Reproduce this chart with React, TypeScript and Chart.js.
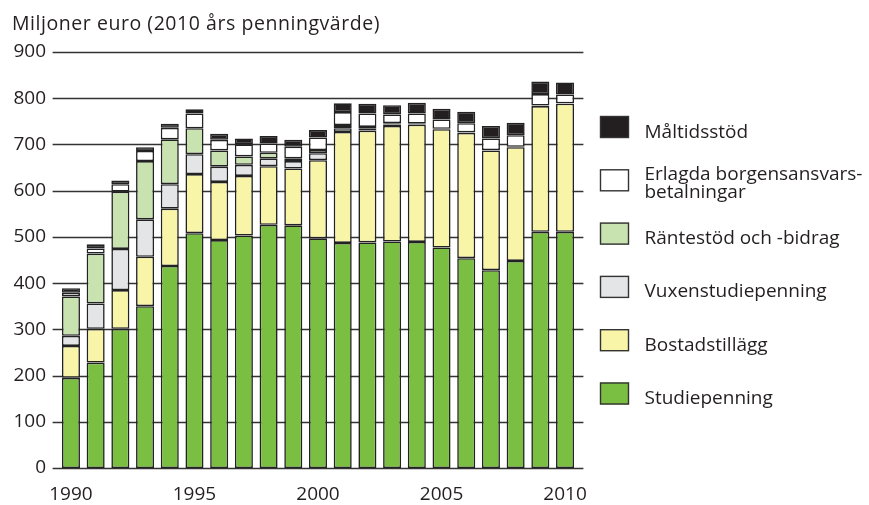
import React, { useEffect, useRef } from "react";
import { Chart, registerables } from "chart.js";

Chart.register(...registerables);

const years = [
  "1990", "1991", "1992", "1993", "1994", "1995", "1996", "1997", "1998", "1999",
  "2000", "2001", "2002", "2003", "2004", "2005", "2006", "2007", "2008", "2009", "2010",
];
const labeledYears = ["1990", "1995", "2000", "2005", "2010"];
const yTicks = [0, 100, 200, 300, 400, 500, 600, 700, 800, 900];

const studiepenning = [195, 228, 301, 350, 437, 508, 493, 503, 526, 525, 497, 487, 488, 490, 489, 477, 454, 428, 448, 511, 511];
const bostadstillagg = [69, 73, 84, 107, 124, 128, 126, 129, 127, 123, 169, 240, 242, 250, 254, 256, 271, 259, 246, 272, 277];
const vuxenstudiepenning = [22, 55, 89, 81, 53, 43, 33, 24, 17, 16, 15, 8, 4, 3, 1, 0.5, 0.5, 0.5, 0.5, 0.5, 0.5];
const rantestod = [85, 108, 124, 126, 97, 56, 35, 18, 12, 6, 7, 7, 4, 3, 1, 0.5, 0.5, 0.5, 0.5, 0.5, 0.5];
const borgen = [8, 11, 16, 22, 25, 32, 23, 26, 20, 25, 27, 28, 29, 19, 22, 20, 20, 25, 25, 25, 19];
const maltidsstod = [10, 9, 8, 8, 9, 9, 13, 13, 16, 15, 16, 19, 21, 20, 23, 23, 25, 27, 27, 27, 26];

const titleText = "Miljoner euro (2010 års penningvärde)";

const seriesNames = [
  ["Studiepenning"],
  ["Bostadstillägg"],
  ["Vuxenstudiepenning"],
  ["Räntestöd och -bidrag"],
  ["Erlagda borgensansvars-", "betalningar"],
  ["Måltidsstöd"],
];
const seriesValues = [studiepenning, bostadstillagg, vuxenstudiepenning, rantestod, borgen, maltidsstod];
const seriesColors = ["#7abf42", "#f8f4a8", "#e4e5e7", "#c8e2b0", "#ffffff", "#231f20"];

const FONT = "'Open Sans', 'Noto Sans', sans-serif";
const TEXT = "#231f20";

const gridPlugin = {
  id: "customGrid",
  beforeDatasetsDraw(chart: any) {
    const { ctx, chartArea, scales } = chart;
    const y = scales.y;
    ctx.save();
    ctx.strokeStyle = "#333333";
    ctx.lineWidth = 1.4;
    y.ticks.forEach((t: any) => {
      const py = Math.round(y.getPixelForValue(t.value)) + 0.5;
      ctx.beginPath();
      ctx.moveTo(chartArea.left - 6, py);
      ctx.lineTo(chartArea.right + 6, py);
      ctx.stroke();
    });
    ctx.restore();
  },
};

const decorPlugin = {
  id: "decor",
  afterDraw(chart: any) {
    const { ctx } = chart;
    ctx.save();
    ctx.fillStyle = TEXT;
    ctx.textBaseline = "alphabetic";
    ctx.textAlign = "left";
    ctx.font = `19.5px ${FONT}`;
    (ctx as any).letterSpacing = "0.55px";
    ctx.fillText(titleText, 12, 29.5);
    (ctx as any).letterSpacing = "0px";
    ctx.font = `19px ${FONT}`;

    // legend, top item = last dataset
    const ds = chart.data.datasets;
    const n = ds.length;
    for (let i = 0; i < n; i++) {
      const d = ds[n - 1 - i];
      const top = 116 + i * 53.3;
      ctx.fillStyle = d.backgroundColor;
      ctx.fillRect(600, top, 29, 22);
      ctx.strokeStyle = "#333333";
      ctx.lineWidth = 1.4;
      ctx.strokeRect(600.5, top + 0.5, 28, 21);
      ctx.fillStyle = TEXT;
      const lines: string[] = d.legendLines;
      if (lines.length === 1) {
        ctx.fillText(lines[0], 644.5, top + 21.5);
      } else {
        ctx.fillText(lines[0], 644.5, top + 11);
        ctx.fillText(lines[1], 644.5, top + 28.5);
      }
    }
    ctx.restore();
  },
};

export default function App() {
  const ref = useRef<HTMLCanvasElement | null>(null);
  useEffect(() => {
    if (!ref.current) return;
    const chart = new Chart(ref.current, {
      type: "bar",
      data: {
        labels: years,
        datasets: seriesValues.map((vals, i) => ({
          label: seriesNames[i].join(" "),
          legendLines: seriesNames[i],
          data: vals,
          backgroundColor: seriesColors[i],
          borderColor: "#222222",
          borderWidth: 1.6,
          borderSkipped: false,
          barPercentage: 0.73,
          categoryPercentage: 1,
        })) as any,
      },
      options: {
        responsive: false,
        animation: false,
        devicePixelRatio: 1,
        layout: { padding: { left: 12, right: 291.6, top: 52, bottom: 0 } },
        plugins: {
          legend: { display: false },
          title: { display: false },
          tooltip: { enabled: false },
        },
        scales: {
          x: {
            stacked: true,
            offset: true,
            grid: { display: false, drawTicks: false },
            border: { display: false },
            ticks: {
              autoSkip: false,
              maxRotation: 0,
              padding: 15,
              color: TEXT,
              font: { family: FONT, size: 19 },
              callback: function (this: any, value: any) {
                const lab = this.getLabelForValue(value);
                return labeledYears.includes(lab) ? lab : "";
              },
            },
            afterFit(scale: any) {
              scale.height = 37;
            },
          },
          y: {
            stacked: true,
            min: 0,
            max: 900,
            afterBuildTicks(scale: any) {
              scale.ticks = yTicks.map((v) => ({ value: v }));
            },
            grid: { display: false, drawTicks: false },
            border: { display: false },
            ticks: {
              padding: 12.6,
              color: TEXT,
              font: { family: FONT, size: 19 },
            },
            afterFit(scale: any) {
              scale.width = 46.6;
            },
          },
        },
      },
      plugins: [gridPlugin, decorPlugin],
    } as any);
    return () => chart.destroy();
  }, []);
  return (
    <div style={{ position: "fixed", left: 0, top: 0, width: 869, height: 505, background: "#fff" }}>
      <canvas ref={ref} width={869} height={505} style={{ display: "block" }} />
    </div>
  );
}
